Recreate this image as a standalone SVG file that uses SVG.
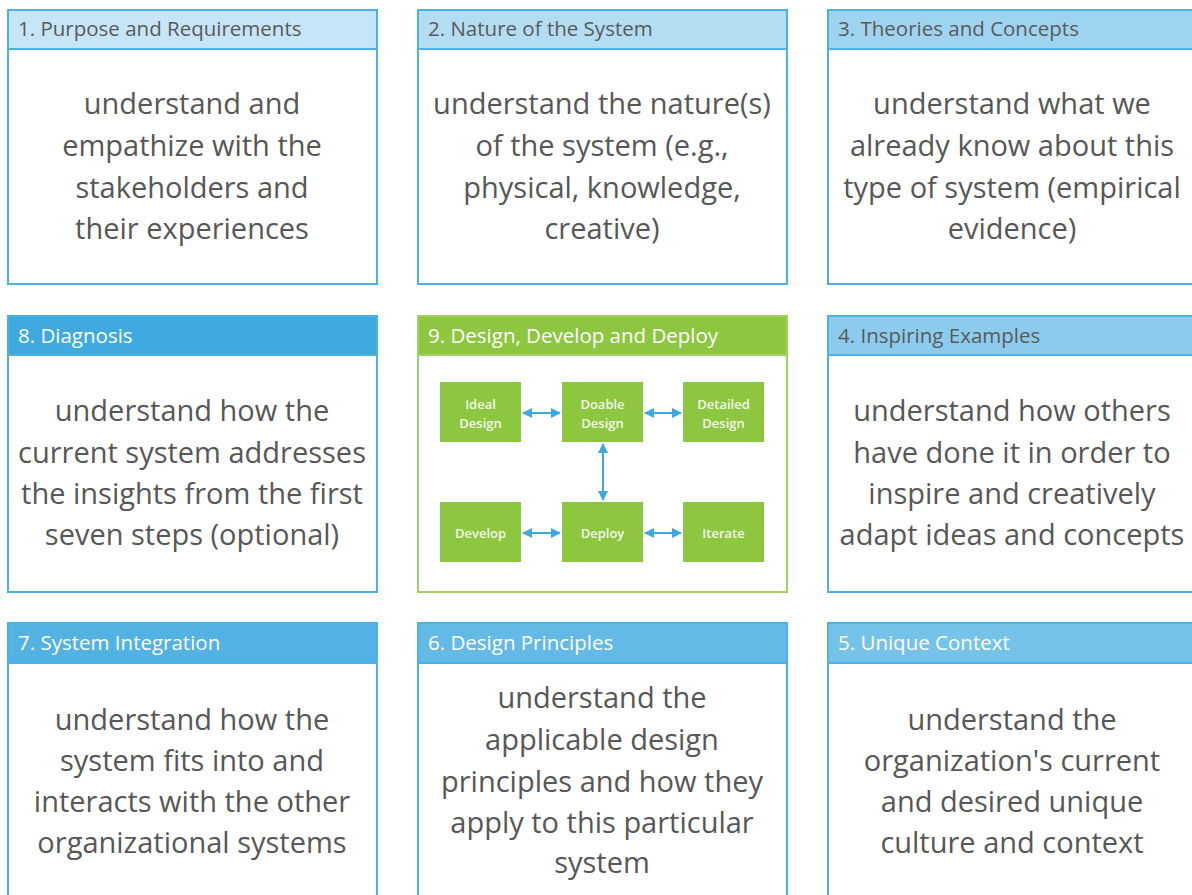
<svg xmlns="http://www.w3.org/2000/svg" width="1192" height="895" viewBox="0 0 1192 895">
<defs>
<style>
.box{fill:#fff;stroke:#4cb1e4;stroke-width:2}
.hdr{stroke:#4cb1e4;stroke-width:2}
.ht{font-family:"Open Sans","Liberation Sans",sans-serif;font-size:20.5px}
.dark{fill:#5a5a5a}
.light{fill:#ffffff}
.body{font-family:"Open Sans","Liberation Sans",sans-serif;font-size:29px;fill:#575757;text-anchor:middle}
.gbox{fill:#fff;stroke:#9fd35e;stroke-width:2}
.ghdr{fill:#8dc63f;stroke:#9fd35e;stroke-width:2}
.inner{fill:#8dc63f}
.it{font-family:"Open Sans","Liberation Sans",sans-serif;font-size:13px;font-weight:600;fill:#f4faea;text-anchor:middle}
.conn{stroke:#3ea8e0;stroke-width:2;fill:none;marker-start:url(#ah);marker-end:url(#ah)}
</style>
<marker id="ah" viewBox="0 0 10 10" refX="9" refY="5" markerWidth="5" markerHeight="5" orient="auto-start-reverse" markerUnits="strokeWidth">
<path d="M0,0 L10,5 L0,10 z" fill="#3ea8e0"/>
</marker>
</defs>
<rect width="1192" height="895" fill="#fff"/>

<g id="n1">
<rect class="box" x="8" y="10" width="369" height="274"/>
<rect class="hdr" x="8" y="10" width="369" height="39" fill="#c6e5f6"/>
<text class="ht dark" x="18" y="36">1. Purpose and Requirements</text>
<text class="body"><tspan x="192" y="114">understand and</tspan><tspan x="192" y="156">empathize with the</tspan><tspan x="192" y="198">stakeholders and</tspan><tspan x="192" y="239">their experiences</tspan></text>
</g>

<g id="n2">
<rect class="box" x="418" y="10" width="369" height="274"/>
<rect class="hdr" x="418" y="10" width="369" height="39" fill="#b3ddf3"/>
<text class="ht dark" x="428" y="36">2. Nature of the System</text>
<text class="body"><tspan x="602" y="114">understand the nature(s)</tspan><tspan x="602" y="156">of the system (e.g.,</tspan><tspan x="602" y="198">physical, knowledge,</tspan><tspan x="602" y="239">creative)</tspan></text>
</g>

<g id="n3">
<rect class="box" x="828" y="10" width="370" height="274"/>
<rect class="hdr" x="828" y="10" width="370" height="39" fill="#9fd4f0"/>
<text class="ht dark" x="838" y="36">3. Theories and Concepts</text>
<text class="body"><tspan x="1012" y="114">understand what we</tspan><tspan x="1012" y="156">already know about this</tspan><tspan x="1012" y="198">type of system (empirical</tspan><tspan x="1012" y="239">evidence)</tspan></text>
</g>

<g id="n8">
<rect class="box" x="8" y="316" width="369" height="276"/>
<rect class="hdr" x="8" y="316" width="369" height="39" fill="#3eaadf"/>
<text class="ht light" x="18" y="343">8. Diagnosis</text>
<text class="body"><tspan x="192" y="421">understand how the</tspan><tspan x="192" y="463">current system addresses</tspan><tspan x="192" y="504">the insights from the first</tspan><tspan x="192" y="545">seven steps (optional)</tspan></text>
</g>

<g id="n9">
<rect class="gbox" x="418" y="316" width="369" height="276"/>
<rect class="ghdr" x="418" y="316" width="369" height="39"/>
<text class="ht light" x="428" y="343">9. Design, Develop and Deploy</text>
</g>

<g id="n9a"><rect class="inner" x="440" y="382" width="81" height="60"/><text class="it"><tspan x="480.5" y="409">Ideal</tspan><tspan x="480.5" y="428">Design</tspan></text></g>
<g id="n9b"><rect class="inner" x="562" y="382" width="81" height="60"/><text class="it"><tspan x="602.5" y="409">Doable</tspan><tspan x="602.5" y="428">Design</tspan></text></g>
<g id="n9c"><rect class="inner" x="683" y="382" width="81" height="60"/><text class="it"><tspan x="723.5" y="409">Detailed</tspan><tspan x="723.5" y="428">Design</tspan></text></g>
<g id="n9d"><rect class="inner" x="440" y="502" width="81" height="60"/><text class="it" x="480.5" y="538">Develop</text></g>
<g id="n9e"><rect class="inner" x="562" y="502" width="81" height="60"/><text class="it" x="602.5" y="538">Deploy</text></g>
<g id="n9f"><rect class="inner" x="683" y="502" width="81" height="60"/><text class="it" x="723.5" y="538">Iterate</text></g>

<g id="connectors">
<line class="conn" x1="523" y1="413" x2="560" y2="413"/>
<line class="conn" x1="645" y1="413" x2="681" y2="413"/>
<line class="conn" x1="603" y1="444" x2="603" y2="500"/>
<line class="conn" x1="523" y1="533" x2="560" y2="533"/>
<line class="conn" x1="645" y1="533" x2="681" y2="533"/>
</g>

<g id="n4">
<rect class="box" x="828" y="316" width="370" height="276"/>
<rect class="hdr" x="828" y="316" width="370" height="39" fill="#8bcbed"/>
<text class="ht dark" x="838" y="343">4. Inspiring Examples</text>
<text class="body"><tspan x="1012" y="421">understand how others</tspan><tspan x="1012" y="463">have done it in order to</tspan><tspan x="1012" y="504">inspire and creatively</tspan><tspan x="1012" y="545">adapt ideas and concepts</tspan></text>
</g>

<g id="n7">
<rect class="box" x="8" y="623" width="369" height="290"/>
<rect class="hdr" x="8" y="623" width="369" height="40" fill="#51b2e3"/>
<text class="ht light" x="18" y="650">7. System Integration</text>
<text class="body"><tspan x="192" y="730">understand how the</tspan><tspan x="192" y="771">system fits into and</tspan><tspan x="192" y="812">interacts with the other</tspan><tspan x="192" y="853">organizational systems</tspan></text>
</g>

<g id="n6">
<rect class="box" x="418" y="623" width="369" height="290"/>
<rect class="hdr" x="418" y="623" width="369" height="40" fill="#63bae6"/>
<text class="ht light" x="428" y="650">6. Design Principles</text>
<text class="body"><tspan x="602" y="708">understand the</tspan><tspan x="602" y="750">applicable design</tspan><tspan x="602" y="792">principles and how they</tspan><tspan x="602" y="833">apply to this particular</tspan><tspan x="602" y="873">system</tspan></text>
</g>

<g id="n5">
<rect class="box" x="828" y="623" width="370" height="290"/>
<rect class="hdr" x="828" y="623" width="370" height="40" fill="#76c3ea"/>
<text class="ht light" x="838" y="650">5. Unique Context</text>
<text class="body"><tspan x="1012" y="730">understand the</tspan><tspan x="1012" y="771">organization's current</tspan><tspan x="1012" y="812">and desired unique</tspan><tspan x="1012" y="853">culture and context</tspan></text>
</g>
</svg>
